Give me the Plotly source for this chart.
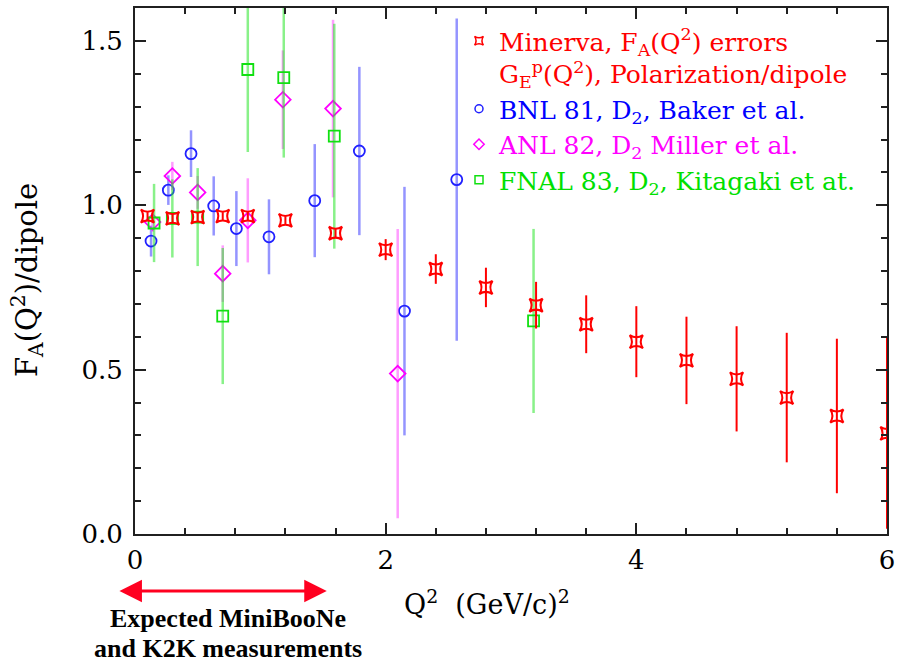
import plotly.graph_objects as go

# ---- data ----
minerva_q2 = [0.1, 0.3, 0.5, 0.7, 0.9, 1.2, 1.6, 2.0, 2.4, 2.8, 3.2, 3.6, 4.0, 4.4, 4.8, 5.2, 5.6, 6.0]
minerva_y = [0.967, 0.960, 0.964, 0.967, 0.967, 0.954, 0.915, 0.865, 0.806, 0.750, 0.696, 0.638,
             0.585, 0.528, 0.472, 0.415, 0.359, 0.306]
minerva_err = [0.012, 0.012, 0.012, 0.012, 0.015, 0.012, 0.015, 0.032, 0.045, 0.060, 0.071, 0.088,
               0.108, 0.133, 0.160, 0.197, 0.235, 0.290]

bnl_q2 = [0.128, 0.266, 0.447, 0.628, 0.809, 1.069, 1.434, 1.79, 2.15, 2.567]
bnl_y = [0.891, 1.046, 1.157, 0.998, 0.929, 0.904, 1.014, 1.165, 0.678, 1.078]
bnl_err = [0.047, 0.045, 0.071, 0.090, 0.114, 0.114, 0.172, 0.256, 0.378, 0.490]

anl_q2 = [0.14, 0.298, 0.5, 0.7, 0.9, 1.18, 1.58, 2.096]
anl_y = [0.949, 1.089, 1.039, 0.792, 0.954, 1.321, 1.294, 0.488]
anl_err = [0.03, 0.043, 0.05, 0.086, 0.128, 0.15, 0.27, 0.44]

fnal_q2 = [0.152, 0.298, 0.5, 0.7, 0.9, 1.187, 1.59, 3.18]
fnal_y = [0.946, 0.960, 0.964, 0.663, 1.413, 1.388, 1.21, 0.648]
fnal_err = [0.119, 0.119, 0.149, 0.207, 0.251, 0.243, 0.342, 0.280]

x_range = [0, 6]
y_range = [0, 1.6]
arrow_span = [-0.136, 1.53]   # in Q^2 units
note_lines = ["Expected MiniBooNe", "and K2K measurements"]

names = {
    "minerva": "<span style='color:#ff0000'>Minerva, F<sub>A</sub>(Q<sup>2</sup>) errors<br>"
               "G<sub>E</sub><sup>p</sup>(Q<sup>2</sup>), Polarization/dipole</span>",
    "bnl": "<span style='color:#0000ff'>BNL 81, D<sub>2</sub>, Baker et al.</span>",
    "anl": "<span style='color:#ff00ff'>ANL 82, D<sub>2</sub> Miller et al.</span>",
    "fnal": "<span style='color:#00e000'>FNAL 83, D<sub>2</sub>, Kitagaki et at.</span>",
}

SERIF = "DejaVu Serif"
W, H = 899, 662
ML, MR, MT, MB = 135, 12, 8, 128
PLOT_W = W - ML - MR
PLOT_H = H - MT - MB


def px_to_paper_y(py):
    return (H - MB - py) / PLOT_H


def px_to_paper_x(px):
    return (px - ML) / PLOT_W


fig = go.Figure()

series = [
    ("bnl", bnl_q2, bnl_y, bnl_err, "circle-open", 11, "#2020ff", "rgba(60,60,255,0.55)", 2.5),
    ("anl", anl_q2, anl_y, anl_err, "diamond-open", 12, "#ff00ff", "rgba(255,60,255,0.5)", 2.5),
    ("fnal", fnal_q2, fnal_y, fnal_err, "square-open", 11, "#10e010", "rgba(40,230,40,0.55)", 2.5),
    ("minerva", minerva_q2, minerva_y, minerva_err, "star-square-open", 12, "#ff0000", "#ff0000", 2),
]
legend_rank = {"minerva": 1, "bnl": 2, "anl": 3, "fnal": 4}

for key, xs, ys, es, sym, size, col, ecol, eth in series:
    fig.add_trace(go.Scatter(
        x=xs, y=ys, mode="markers", showlegend=False,
        error_y=dict(type="data", array=es, width=0, thickness=eth, color=ecol),
        marker=dict(symbol=sym, size=size, color=col, line=dict(width=2 if key == "minerva" else 1.8)),
    ))

# legend entries (smaller symbols as in the reference legend)
for key, xs, ys, es, sym, size, col, ecol, eth in series:
    fig.add_trace(go.Scatter(
        x=[None], y=[None], mode="markers", name=names[key], showlegend=True,
        marker=dict(symbol=sym, size=8, color=col, line=dict(width=1.5)),
        legendrank=legend_rank[key],
    ))

# bottom double arrow
fig.add_annotation(
    x=arrow_span[1] / (x_range[1] - x_range[0]), y=px_to_paper_y(591),
    xref="paper", yref="paper",
    ax=-(arrow_span[1] - arrow_span[0]) * PLOT_W / (x_range[1] - x_range[0]), ay=0,
    axref="pixel", ayref="pixel",
    text="", showarrow=True, arrowside="end+start", arrowhead=2,
    arrowsize=1.5, arrowwidth=3, arrowcolor="#ff0020",
)
for line, py in zip(note_lines, [618, 648]):
    fig.add_annotation(
        x=px_to_paper_x(228), y=px_to_paper_y(py), xref="paper", yref="paper",
        text="<b>" + line + "</b>", showarrow=False,
        font=dict(family="Liberation Serif", size=26, color="black"),
        xanchor="center", yanchor="middle", align="center",
    )
# x-axis title
fig.add_annotation(
    x=px_to_paper_x(487), y=px_to_paper_y(602), xref="paper", yref="paper",
    text="Q<sup>2</sup>&nbsp;&nbsp;(GeV/c)<sup>2</sup>", showarrow=False,
    font=dict(family=SERIF, size=27, color="black"),
    xanchor="center", yanchor="middle",
)
# y-axis title
fig.add_annotation(
    x=px_to_paper_x(27), y=px_to_paper_y(280), xref="paper", yref="paper",
    text="F<sub>A</sub>(Q<sup>2</sup>)/dipole", showarrow=False, textangle=-90,
    font=dict(family=SERIF, size=29, color="black"),
    xanchor="center", yanchor="middle",
)

axis_common = dict(
    showline=True, linecolor="#202020", linewidth=2, mirror="allticks",
    ticks="inside", ticklen=11, tickwidth=2, tickcolor="#202020",
    showgrid=False, zeroline=False, automargin=False,
    tickfont=dict(family=SERIF, size=26, color="black"),
)

fig.update_xaxes(
    range=x_range, dtick=2, tick0=0,
    minor=dict(dtick=0.4, ticks="inside", ticklen=6, tickwidth=1.5, tickcolor="#202020"),
    ticklabelstandoff=2,
    **axis_common,
)
fig.update_yaxes(
    range=y_range, dtick=0.5, tick0=0, tickformat=".1f",
    minor=dict(dtick=0.1, ticks="inside", ticklen=6, tickwidth=1.5, tickcolor="#202020"),
    ticklabelstandoff=5,
    **axis_common,
)

fig.update_layout(
    width=W, height=H,
    margin=dict(l=ML, r=MR, t=MT, b=MB, autoexpand=False),
    paper_bgcolor="white", plot_bgcolor="white",
    showlegend=True,
    legend=dict(
        x=px_to_paper_x(459), y=px_to_paper_y(18), xanchor="left", yanchor="top",
        bgcolor="rgba(0,0,0,0)", borderwidth=0,
        font=dict(family=SERIF, size=25, color="black"),
        valign="top", itemsizing="trace", traceorder="normal",
        tracegroupgap=0,
    ),
)

fig.write_html("out.html", config={"displayModeBar": False},
               post_script="document.body.style.margin='0';")
